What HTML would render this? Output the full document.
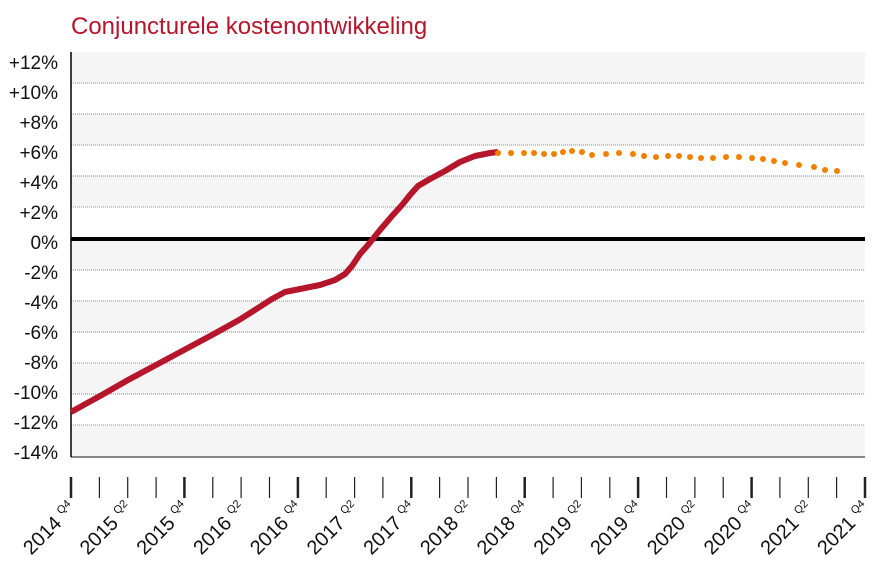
<!DOCTYPE html>
<html><head><meta charset="utf-8"><style>body{margin:0;background:#fff}svg{display:block}</style></head><body>
<svg width="883" height="585" xmlns="http://www.w3.org/2000/svg" font-family="Liberation Sans, sans-serif">
<text x="71" y="34" fill="#b5162b" font-size="24">Conjuncturele kostenontwikkeling</text>
<g fill="#f5f5f5">
<rect x="71" y="52" width="794" height="31"/>
<rect x="71" y="114" width="794" height="31"/>
<rect x="71" y="176" width="794" height="31"/>
<rect x="71" y="239" width="794" height="31"/>
<rect x="71" y="301" width="794" height="31"/>
<rect x="71" y="363" width="794" height="31"/>
<rect x="71" y="425" width="794" height="32"/>
</g>
<g stroke="#888" stroke-width="1" stroke-dasharray="1,1">
<line x1="71" x2="865" y1="83" y2="83"/><line x1="71" x2="865" y1="114" y2="114"/><line x1="71" x2="865" y1="145" y2="145"/><line x1="71" x2="865" y1="176" y2="176"/><line x1="71" x2="865" y1="207" y2="207"/>
<line x1="71" x2="865" y1="270" y2="270"/><line x1="71" x2="865" y1="301" y2="301"/><line x1="71" x2="865" y1="332" y2="332"/><line x1="71" x2="865" y1="363" y2="363"/><line x1="71" x2="865" y1="394" y2="394"/><line x1="71" x2="865" y1="425" y2="425"/>
</g>
<line x1="71" x2="865" y1="457" y2="457" stroke="#888" stroke-width="2"/>
<line x1="71" x2="71" y1="52" y2="457" stroke="#000" stroke-width="1.5"/>
<line x1="71" x2="865" y1="239" y2="239" stroke="#000" stroke-width="4"/>
<g font-size="19" text-anchor="end" fill="#111">
<text x="58" y="69">+12%</text><text x="58" y="99">+10%</text><text x="58" y="129">+8%</text><text x="58" y="159">+6%</text><text x="58" y="189">+4%</text><text x="58" y="219">+2%</text><text x="58" y="249">0%</text>
<text x="58" y="279">-2%</text><text x="58" y="309">-4%</text><text x="58" y="339">-6%</text><text x="58" y="369">-8%</text><text x="58" y="399">-10%</text><text x="58" y="429">-12%</text><text x="58" y="459">-14%</text>
</g>
<path d="M71,412 L100,396 L128,380 L156,365 L184,350 L212,335 L239,320 L258,308 L272,299 L285,292 L300,289 L320,285 L335,280 L345,274 L352,266 L360,254 L368,245 L380,230 L392,216 L402,205 L410,195 L418,186 L430,179 L445,171 L460,162 L475,156 L490,153 L498,152" fill="none" stroke="#b5162b" stroke-width="6" stroke-linejoin="round"/>
<g fill="#f08000">
<circle cx="498" cy="153" r="3"/><circle cx="511" cy="153" r="3"/><circle cx="524" cy="153" r="3"/><circle cx="534" cy="153" r="3"/><circle cx="544" cy="154" r="3"/><circle cx="554" cy="154" r="3"/><circle cx="563" cy="152" r="3"/><circle cx="572" cy="151" r="3"/><circle cx="582" cy="152" r="3"/><circle cx="592" cy="155" r="3"/><circle cx="606" cy="154" r="3"/><circle cx="619" cy="153" r="3"/><circle cx="633" cy="154" r="3"/><circle cx="644" cy="156" r="3"/><circle cx="656" cy="157" r="3"/><circle cx="668" cy="156" r="3"/><circle cx="679" cy="156" r="3"/><circle cx="690" cy="157" r="3"/><circle cx="701" cy="158" r="3"/><circle cx="713" cy="158" r="3"/><circle cx="726" cy="157" r="3"/><circle cx="739" cy="157" r="3"/><circle cx="752" cy="158" r="3"/><circle cx="763" cy="159" r="3"/><circle cx="774" cy="161" r="3"/><circle cx="785" cy="163" r="3"/><circle cx="799" cy="165" r="3"/><circle cx="814" cy="167" r="3"/><circle cx="825" cy="170" r="3"/><circle cx="837" cy="171" r="3"/>
</g>
<g stroke="#222">
<line x1="71" x2="71" y1="477" y2="498" stroke-width="2.5"/><line x1="99.4" x2="99.4" y1="477" y2="498" stroke-width="1.2"/><line x1="127.7" x2="127.7" y1="477" y2="498" stroke-width="1.2"/><line x1="156.1" x2="156.1" y1="477" y2="498" stroke-width="1.2"/>
<line x1="184.4" x2="184.4" y1="477" y2="498" stroke-width="2.5"/><line x1="212.8" x2="212.8" y1="477" y2="498" stroke-width="1.2"/><line x1="241.1" x2="241.1" y1="477" y2="498" stroke-width="1.2"/><line x1="269.5" x2="269.5" y1="477" y2="498" stroke-width="1.2"/>
<line x1="297.9" x2="297.9" y1="477" y2="498" stroke-width="2.5"/><line x1="326.2" x2="326.2" y1="477" y2="498" stroke-width="1.2"/><line x1="354.6" x2="354.6" y1="477" y2="498" stroke-width="1.2"/><line x1="382.9" x2="382.9" y1="477" y2="498" stroke-width="1.2"/>
<line x1="411.3" x2="411.3" y1="477" y2="498" stroke-width="2.5"/><line x1="439.6" x2="439.6" y1="477" y2="498" stroke-width="1.2"/><line x1="468" x2="468" y1="477" y2="498" stroke-width="1.2"/><line x1="496.4" x2="496.4" y1="477" y2="498" stroke-width="1.2"/>
<line x1="524.7" x2="524.7" y1="477" y2="498" stroke-width="2.5"/><line x1="553.1" x2="553.1" y1="477" y2="498" stroke-width="1.2"/><line x1="581.4" x2="581.4" y1="477" y2="498" stroke-width="1.2"/><line x1="609.8" x2="609.8" y1="477" y2="498" stroke-width="1.2"/>
<line x1="638.1" x2="638.1" y1="477" y2="498" stroke-width="2.5"/><line x1="666.5" x2="666.5" y1="477" y2="498" stroke-width="1.2"/><line x1="694.9" x2="694.9" y1="477" y2="498" stroke-width="1.2"/><line x1="723.2" x2="723.2" y1="477" y2="498" stroke-width="1.2"/>
<line x1="751.6" x2="751.6" y1="477" y2="498" stroke-width="2.5"/><line x1="779.9" x2="779.9" y1="477" y2="498" stroke-width="1.2"/><line x1="808.3" x2="808.3" y1="477" y2="498" stroke-width="1.2"/><line x1="836.6" x2="836.6" y1="477" y2="498" stroke-width="1.2"/>
<line x1="865" x2="865" y1="477" y2="498" stroke-width="2.5"/>
</g>
<g font-size="20" fill="#111" text-anchor="end">
<text transform="translate(77,510) rotate(-45)">2014 <tspan font-size="11" dy="-8">Q4</tspan></text>
<text transform="translate(133.7,510) rotate(-45)">2015 <tspan font-size="11" dy="-8">Q2</tspan></text>
<text transform="translate(190.4,510) rotate(-45)">2015 <tspan font-size="11" dy="-8">Q4</tspan></text>
<text transform="translate(247.1,510) rotate(-45)">2016 <tspan font-size="11" dy="-8">Q2</tspan></text>
<text transform="translate(303.9,510) rotate(-45)">2016 <tspan font-size="11" dy="-8">Q4</tspan></text>
<text transform="translate(360.6,510) rotate(-45)">2017 <tspan font-size="11" dy="-8">Q2</tspan></text>
<text transform="translate(417.3,510) rotate(-45)">2017 <tspan font-size="11" dy="-8">Q4</tspan></text>
<text transform="translate(474,510) rotate(-45)">2018 <tspan font-size="11" dy="-8">Q2</tspan></text>
<text transform="translate(530.7,510) rotate(-45)">2018 <tspan font-size="11" dy="-8">Q4</tspan></text>
<text transform="translate(587.4,510) rotate(-45)">2019 <tspan font-size="11" dy="-8">Q2</tspan></text>
<text transform="translate(644.1,510) rotate(-45)">2019 <tspan font-size="11" dy="-8">Q4</tspan></text>
<text transform="translate(700.9,510) rotate(-45)">2020 <tspan font-size="11" dy="-8">Q2</tspan></text>
<text transform="translate(757.6,510) rotate(-45)">2020 <tspan font-size="11" dy="-8">Q4</tspan></text>
<text transform="translate(814.3,510) rotate(-45)">2021 <tspan font-size="11" dy="-8">Q2</tspan></text>
<text transform="translate(871,510) rotate(-45)">2021 <tspan font-size="11" dy="-8">Q4</tspan></text>
</g>
</svg>
</body></html>
